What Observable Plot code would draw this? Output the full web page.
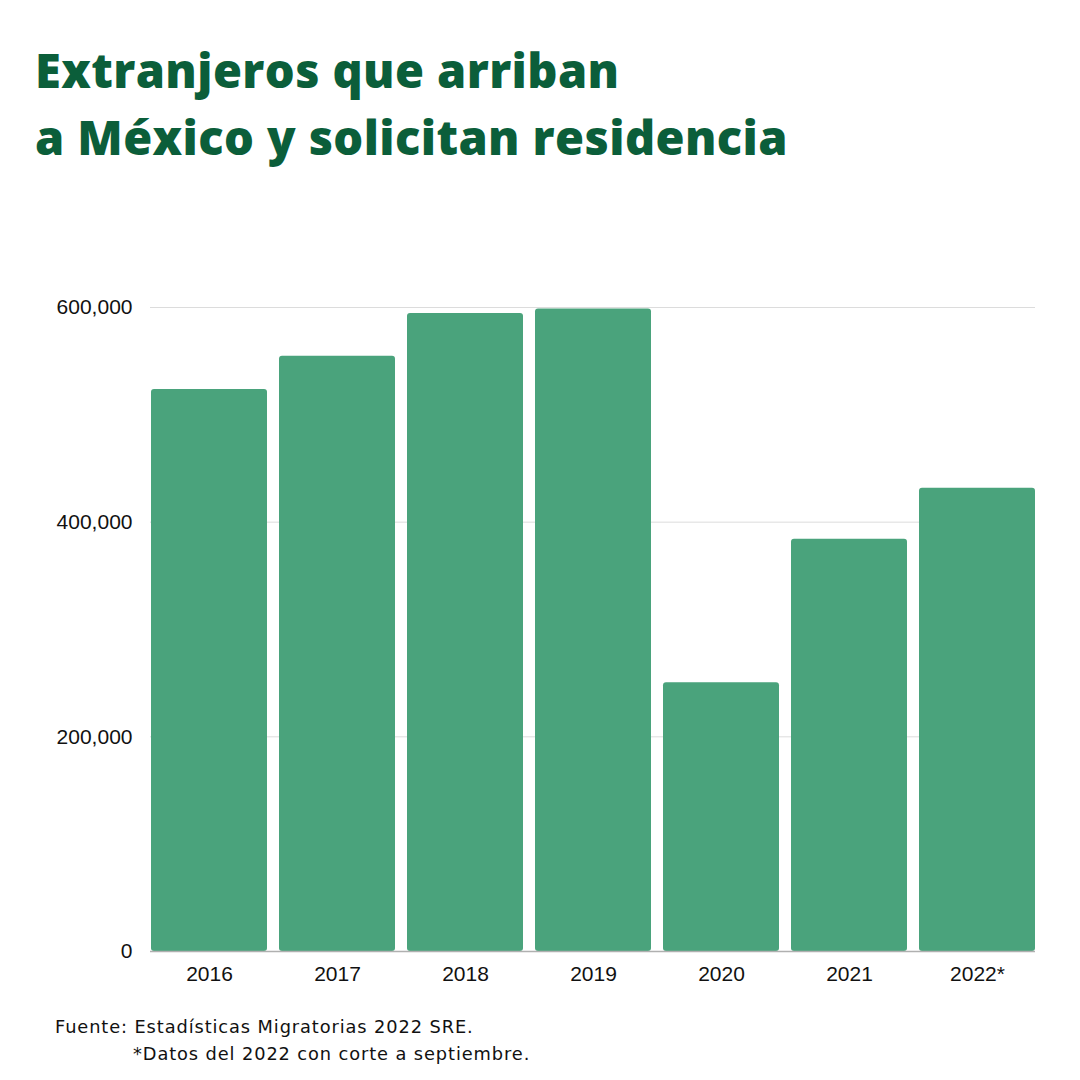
<!DOCTYPE html>
<html>
<head>
<meta charset="utf-8">
<script src="https://cdn.jsdelivr.net/npm/d3@7"></script>
<script src="https://cdn.jsdelivr.net/npm/@observablehq/plot@0.6"></script>
<style>
  html, body { margin: 0; padding: 0; background: #ffffff; }
  #page { position: relative; width: 1080px; height: 1080px; overflow: hidden; background: #fff; }
  #title { position: absolute; left: 35px; top: 37px; margin: 0; font-family: "Open Sans", sans-serif; font-weight: 800; font-size: 47px; line-height: 67px; color: #0b5e3a; letter-spacing: 0.4px; }
  #chart { position: absolute; left: 0; top: 280px; }
  .foot { position: absolute; font-family: "DejaVu Sans", sans-serif; font-size: 17.8px; letter-spacing: 0.9px; color: #111; margin: 0; line-height: 20px; white-space: nowrap; }
</style>
</head>
<body>
<div id="page">
  <h1 id="title">Extranjeros que arriban<br>a México y solicitan residencia</h1>
  <div id="chart"></div>
  <p class="foot" style="left:55px; top:1017px;">Fuente: Estadísticas Migratorias 2022 SRE.</p>
  <p class="foot" style="left:133px; top:1044px;">*Datos del 2022 con corte a septiembre.</p>
</div>
<script>
const years = ["2016", "2017", "2018", "2019", "2020", "2021", "2022*"];
const values = [523500, 554500, 594500, 598500, 250500, 384000, 431500];
const yTicks = [0, 200000, 400000, 600000];

const data = years.map((y, i) => ({year: y, value: values[i]}));

const chart = Plot.plot({
  width: 1080,
  height: 720,
  marginTop: 27,
  marginBottom: 49,
  marginLeft: 150,
  marginRight: 45,
  style: {fontFamily: "'Liberation Sans', Arial, sans-serif", fontSize: "21px", color: "#111"},
  x: {domain: years, paddingInner: 0.094, paddingOuter: 0, label: null},
  y: {domain: [0, 600000], label: null},
  marks: [
    Plot.ruleY(yTicks.filter(d => d > 0), {stroke: "#dcdcdc", strokeWidth: 1}),
    Plot.barY(data, {x: "year", y: "value", fill: "#4aa37c", rx: 3}),
    Plot.ruleY([0], {stroke: "#b0b0b0", strokeWidth: 1.5}),
    Plot.axisY({ticks: yTicks, tickFormat: d3.format(","), tickSize: 0, tickPadding: 18, fontSize: 21}),
    Plot.axisX({tickSize: 0, tickPadding: 15, fontSize: 21})
  ]
});
document.getElementById("chart").appendChild(chart);
</script>
</body>
</html>
